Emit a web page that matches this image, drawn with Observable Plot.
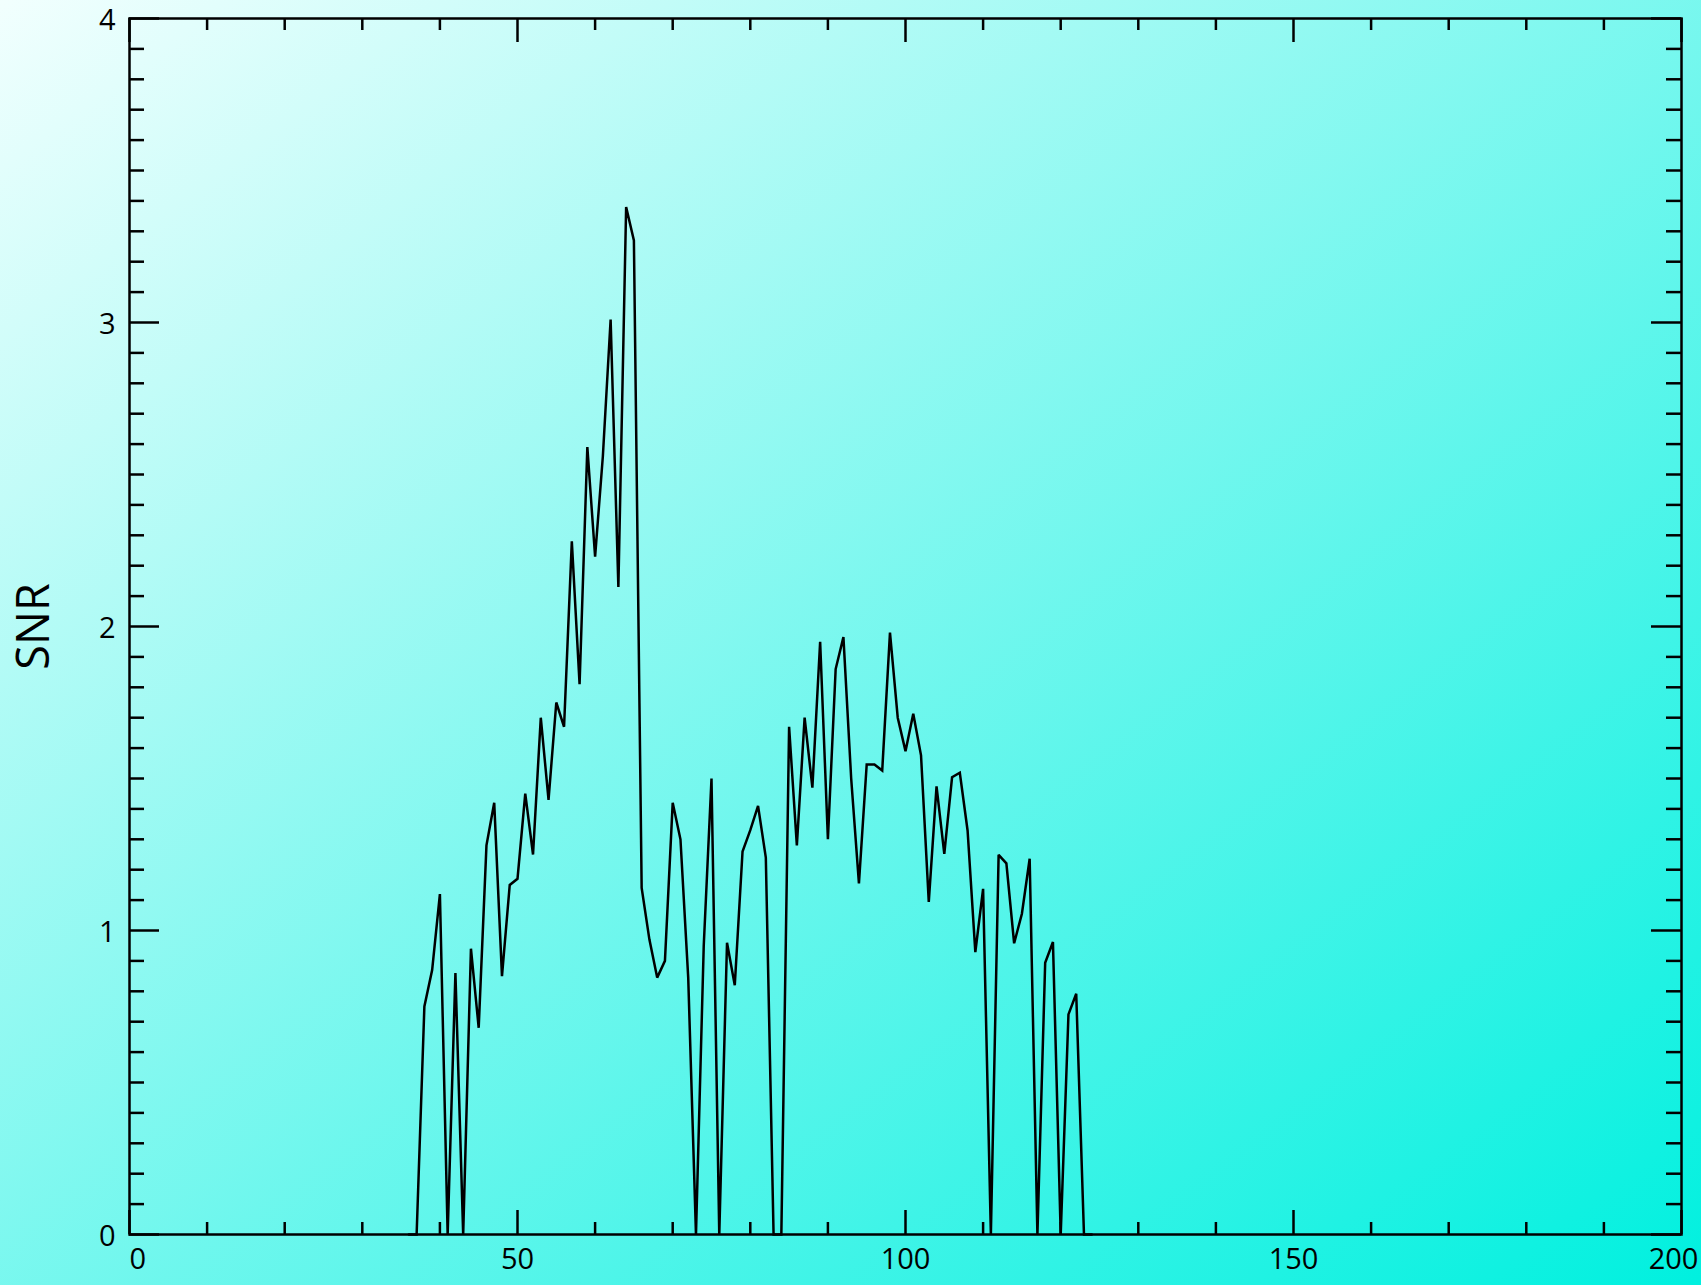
<!DOCTYPE html>
<html>
<head>
<meta charset="utf-8">
<script src="https://cdn.jsdelivr.net/npm/d3@7"></script>
<script src="https://cdn.jsdelivr.net/npm/@observablehq/plot@0.6"></script>
<style>
  html, body { margin: 0; padding: 0; background: #7ff5ec; }
  #chart svg { display: block; }
</style>
</head>
<body>
<div id="chart"></div>
<script>
// ---- data ----
const bins = [36,37,38,39,40,41,42,43,44,45,46,47,48,49,50,51,52,53,54,55,56,57,58,59,60,
  61,62,63,64,65,66,67,68,69,70,71,72,73,74,75,76,77,78,79,80,81,82,83,84,85,86,87,88,89,90,
  91,92,93,94,95,96,97,98,99,100,101,102,103,104,105,106,107,108,109,110,111,112,113,114,115,
  116,117,118,119,120,121,122,123,124];
const snr = [0,0,0.75,0.87,1.12,0,0.86,0,0.94,0.68,1.28,1.42,0.85,1.15,1.17,1.45,1.25,1.70,1.43,1.75,1.67,
  2.28,1.81,2.59,2.23,2.56,3.01,2.13,3.38,3.27,1.14,0.97,0.845,0.90,1.42,1.30,0.845,0,0.95,1.50,0,
  0.96,0.82,1.26,1.33,1.41,1.24,0,0,1.67,1.28,1.70,1.47,1.95,1.30,1.86,1.965,1.50,1.155,1.546,1.546,
  1.526,1.98,1.70,1.59,1.713,1.576,1.094,1.474,1.252,1.504,1.519,1.329,0.929,1.137,0,1.249,1.221,
  0.958,1.055,1.236,0,0.894,0.962,0,0.724,0.792,0,0];

const xMajor = [0, 50, 100, 150, 200];
const xMinor = [10,20,30,40,60,70,80,90,110,120,130,140,160,170,180,190];
const xTickLabels = ["0", "50", "100", "150", "200"];
const yMajor = [0, 1, 2, 3, 4];
const yTickLabels = ["0", "1", "2", "3", "4"];
const yMinor = d3.range(1, 40).filter(i => i % 10 !== 0).map(i => i / 10);
const yTitle = "SNR";

const data = bins.map((b, i) => ({x: b, snr: snr[i]}));

// ---- layout ----
const W = 1701, H = 1285;
const mL = 129, mR = 20, mT = 18, mB = 51;
const iw = W - mL - mR, ih = H - mT - mB;
const lw = 2.5;

const xLab = xMajor.map((v, i) => ({v, t: xTickLabels[i]}));
const yLab = yMajor.map((v, i) => ({v, t: yTickLabels[i]}));

const chart = Plot.plot({
  width: W, height: H,
  marginLeft: mL, marginRight: mR, marginTop: mT, marginBottom: mB,
  x: {domain: [0, 200], axis: null},
  y: {domain: [0, 4], axis: null},
  style: {
    background: "linear-gradient(to bottom right, #f2fffe 0%, #00f0df 100%)",
    fontFamily: "'Open Sans', sans-serif",
    color: "black"
  },
  marks: [
    Plot.line(data, {x: "x", y: "snr", stroke: "black", strokeWidth: lw,
      strokeLinejoin: "miter", strokeMiterlimit: 2.5}),
    // x ticks bottom/top
    Plot.ruleX(xMajor, {x: d => d, stroke: "black", strokeWidth: lw, insetTop: ih - 24}),
    Plot.ruleX(xMajor, {x: d => d, stroke: "black", strokeWidth: lw, insetBottom: ih - 24}),
    Plot.ruleX(xMinor, {x: d => d, stroke: "black", strokeWidth: lw, insetTop: ih - 12}),
    Plot.ruleX(xMinor, {x: d => d, stroke: "black", strokeWidth: lw, insetBottom: ih - 12}),
    // y ticks left/right
    Plot.ruleY(yMajor, {y: d => d, stroke: "black", strokeWidth: lw, insetRight: iw - 30}),
    Plot.ruleY(yMajor, {y: d => d, stroke: "black", strokeWidth: lw, insetLeft: iw - 30}),
    Plot.ruleY(yMinor, {y: d => d, stroke: "black", strokeWidth: lw, insetRight: iw - 15}),
    Plot.ruleY(yMinor, {y: d => d, stroke: "black", strokeWidth: lw, insetLeft: iw - 15}),
    Plot.frame({stroke: "black", strokeWidth: lw}),
    // tick labels
    Plot.text(yLab, {y: "v", text: "t", frameAnchor: "left", textAnchor: "end", dx: -14, dy: 2,
      fontSize: 29, fill: "black"}),
    Plot.text(xLab.slice(1, 4), {x: "v", text: "t", frameAnchor: "bottom", dy: 34,
      fontSize: 29, fill: "black"}),
    Plot.text(xLab.slice(0, 1), {x: "v", text: "t", frameAnchor: "bottom", dy: 34, textAnchor: "start",
      fontSize: 29, fill: "black"}),
    Plot.text(xLab.slice(4, 5), {x: "v", text: "t", frameAnchor: "bottom", dy: 34, dx: -8,
      fontSize: 29, fill: "black"}),
    // y title
    Plot.text([yTitle], {text: d => d, frameAnchor: "left", textAnchor: "middle", dx: -95, rotate: -90,
      fontSize: 45, fill: "black"})
  ]
});
document.getElementById("chart").append(chart);
</script>
</body>
</html>
